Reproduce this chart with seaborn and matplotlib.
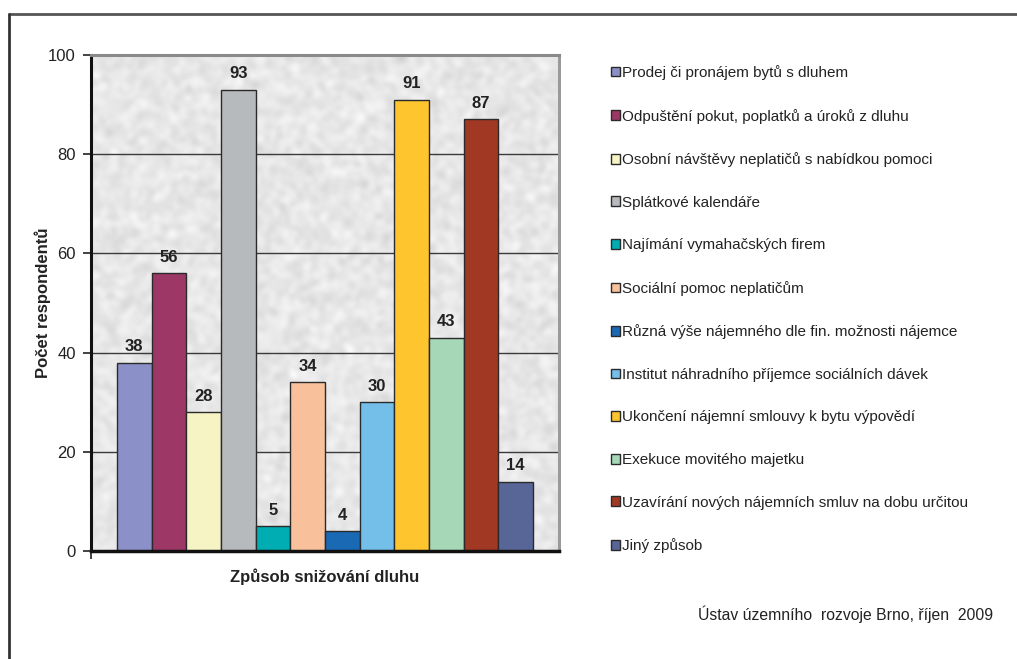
import numpy as np
import pandas as pd
import matplotlib
matplotlib.use("Agg")
import matplotlib.pyplot as plt
import seaborn as sns
from matplotlib.lines import Line2D

# Survey results: ways of reducing rent debt
categories = [
    "Prodej či pronájem bytů s dluhem",
    "Odpuštění pokut, poplatků a úroků z dluhu",
    "Osobní návštěvy neplatičů s nabídkou pomoci",
    "Splátkové kalendáře",
    "Najímání vymahačských firem",
    "Sociální pomoc neplatičům",
    "Různá výše nájemného dle fin. možnosti nájemce",
    "Institut náhradního příjemce sociálních dávek",
    "Ukončení nájemní smlouvy k bytu výpovědí",
    "Exekuce movitého majetku",
    "Uzavírání nových nájemních smluv na dobu určitou",
    "Jiný způsob",
]
counts = [38, 56, 28, 93, 5, 34, 4, 30, 91, 43, 87, 14]
colors = [
    "#8b90c8", "#9d3766", "#f6f4c5", "#b7babd", "#00adb2", "#f9c19b",
    "#1a69b4", "#73bfea", "#ffc52f", "#a6d8b8", "#a03824", "#586697",
]
y_ticks = [0, 20, 40, 60, 80, 100]

sns.set_theme(style="white")
plt.rcParams["font.family"] = ["Liberation Sans", "DejaVu Sans"]

fig = plt.figure(figsize=(10.17, 6.59), dpi=100)
ax = fig.add_axes([91 / 1017, 1 - 551 / 659, 468 / 1017, 496 / 659])

# granite-like plot background
rng = np.random.default_rng(7)
noise = rng.normal(size=(160, 150))
k = np.array([1, 2, 1], float)
k /= k.sum()
noise = np.apply_along_axis(lambda r: np.convolve(r, k, mode="same"), 0, noise)
noise = np.apply_along_axis(lambda r: np.convolve(r, k, mode="same"), 1, noise)
noise = noise / noise.std()
tex = 0.905 + 0.022 * noise
ax.imshow(np.clip(tex, 0, 1), cmap="gray", vmin=0, vmax=1, extent=(-0.5, 0.5, 0, 100),
          aspect="auto", interpolation="bicubic", zorder=0)

df = pd.DataFrame({"skupina": [""] * len(counts), "pocet": counts, "zpusob": categories})
sns.barplot(data=df, x="skupina", y="pocet", hue="zpusob", hue_order=categories,
            palette=colors, saturation=1, width=0.889, dodge=True, errorbar=None,
            edgecolor="#2a2a2a", linewidth=1.0, ax=ax, zorder=2)

for cont in ax.containers:
    ax.bar_label(cont, fmt="%d", padding=6, fontsize=12, fontweight="bold", color="#222222")

ax.set_xlim(-0.5, 0.5)
ax.set_ylim(0, 100)
ax.set_yticks(y_ticks)
ax.set_yticklabels([str(t) for t in y_ticks], fontsize=12, color="#222222")
ax.set_xticks([-0.5])
ax.set_xticklabels([""])
ax.tick_params(axis="y", left=True, length=6, width=1.2, color="#222222", pad=5)
ax.tick_params(axis="x", bottom=True, length=6, width=1.2, color="#222222")
ax.yaxis.grid(True, color="#3a3a3a", linewidth=1.0)
ax.set_axisbelow(True)
for gl in ax.get_ygridlines():
    gl.set_zorder(1)

ax.spines["left"].set_color("#111111")
ax.spines["left"].set_linewidth(2.2)
ax.spines["bottom"].set_color("#111111")
ax.spines["bottom"].set_linewidth(2.5)
ax.spines["top"].set_color("#8a8a8a")
ax.spines["top"].set_linewidth(2.2)
ax.spines["right"].set_color("#9a9a9a")
ax.spines["right"].set_linewidth(2.2)

ax.set_xlabel("Způsob snižování dluhu", fontsize=12, fontweight="bold", color="#222222", labelpad=3)
ax.set_ylabel("Počet respondentů", fontsize=12, fontweight="bold", color="#222222", labelpad=-2.5)

handles, labels = ax.get_legend_handles_labels()
if ax.legend_:
    ax.legend_.remove()
fig.legend(handles, labels, loc="upper left", bbox_to_anchor=(611 / 1017, 1 - 65 / 659),
           frameon=False, fontsize=11, labelspacing=1.87, handlelength=0.6,
           handleheight=0.6, handletextpad=0.15, borderpad=0, borderaxespad=0,
           labelcolor="#222222")

fig.text(993 / 1017, 1 - 614 / 659, "Ústav územního  rozvoje Brno, říjen  2009",
         ha="right", va="center", fontsize=11.3, color="#222222")

# outer frame (top and left edges)
fig.add_artist(Line2D([9 / 1017, 1.0], [1 - 14 / 659] * 2, transform=fig.transFigure,
                      color="#555555", linewidth=2.0))
fig.add_artist(Line2D([9 / 1017] * 2, [1 - 14 / 659, 0.0], transform=fig.transFigure,
                      color="#333333", linewidth=2.0))

fig.savefig("out.png", dpi=100, facecolor="white")
